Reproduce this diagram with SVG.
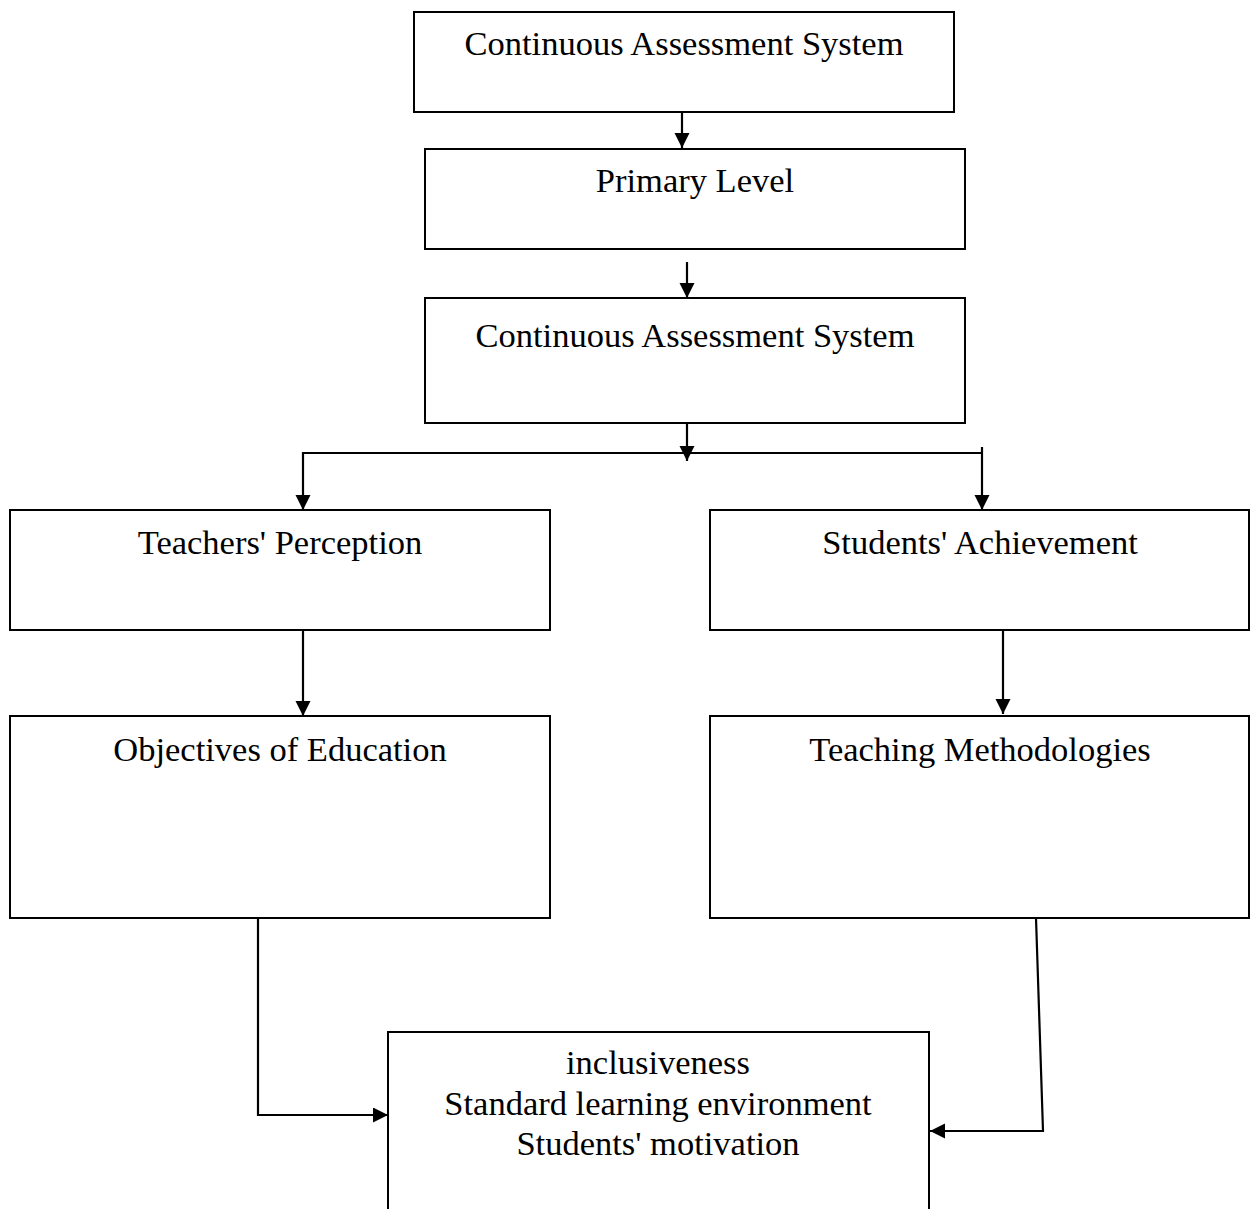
<svg xmlns="http://www.w3.org/2000/svg" width="1250" height="1209" viewBox="0 0 1250 1209">
<style>
.box{fill:#fff;stroke:#000;stroke-width:2}
.lbl{font-family:"Liberation Serif","Times New Roman",serif;font-size:34.5px;fill:#000;text-anchor:middle}
.con{fill:none;stroke:#000;stroke-width:2.2}
</style>
<defs>
<marker id="ah" markerUnits="userSpaceOnUse" markerWidth="16" markerHeight="16" refX="15" refY="7.5" orient="auto">
<path d="M0,0 L15,7.5 L0,15 z" fill="#000"/>
</marker>
</defs>
<rect width="1250" height="1209" fill="#fff"/>
<g id="n1"><rect class="box" x="414" y="12" width="540" height="100"/><text class="lbl" x="684" y="55">Continuous Assessment System</text></g>
<g id="n2"><rect class="box" x="425" y="149" width="540" height="100"/><text class="lbl" x="695" y="192">Primary Level</text></g>
<g id="n3"><rect class="box" x="425" y="298" width="540" height="125"/><text class="lbl" x="695" y="347">Continuous Assessment System</text></g>
<g id="n4"><rect class="box" x="10" y="510" width="540" height="120"/><text class="lbl" x="280" y="554">Teachers' Perception</text></g>
<g id="n5"><rect class="box" x="710" y="510" width="539" height="120"/><text class="lbl" x="980" y="554">Students' Achievement</text></g>
<g id="n6"><rect class="box" x="10" y="716" width="540" height="202"/><text class="lbl" x="280" y="761">Objectives of Education</text></g>
<g id="n7"><rect class="box" x="710" y="716" width="539" height="202"/><text class="lbl" x="980" y="761">Teaching Methodologies</text></g>
<g id="n8"><rect class="box" x="388" y="1032" width="541" height="190"/><text class="lbl" x="658" y="1074">inclusiveness</text><text class="lbl" x="658" y="1115">Standard learning environment</text><text class="lbl" x="658" y="1155">Students' motivation</text></g>
<g id="connectors">
<line class="con" x1="682" y1="112" x2="682" y2="148" marker-end="url(#ah)"/>
<line class="con" x1="687" y1="262" x2="687" y2="298" marker-end="url(#ah)"/>
<line class="con" x1="687" y1="423" x2="687" y2="461" marker-end="url(#ah)"/>
<polyline class="con" points="983,453 303,453 303,510" marker-end="url(#ah)"/>
<line class="con" x1="982" y1="447" x2="982" y2="510" marker-end="url(#ah)"/>
<line class="con" x1="303" y1="630" x2="303" y2="716" marker-end="url(#ah)"/>
<line class="con" x1="1003" y1="630" x2="1003" y2="714" marker-end="url(#ah)"/>
<polyline class="con" points="258,918 258,1115 388,1115" marker-end="url(#ah)"/>
<polyline class="con" points="1036,918 1043,1131 930,1131" marker-end="url(#ah)"/>
</g>
</svg>
